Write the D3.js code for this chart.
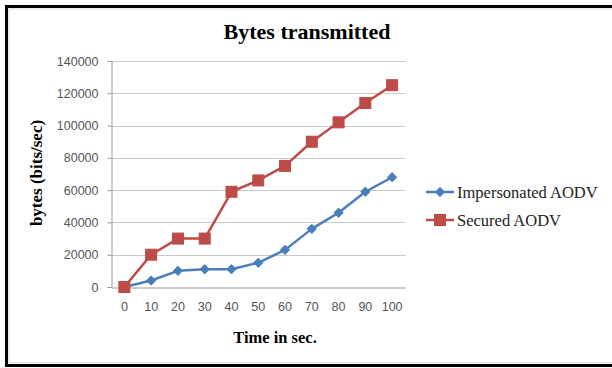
<!DOCTYPE html>
<html>
<head>
<meta charset="utf-8">
<script src="https://cdn.jsdelivr.net/npm/d3@7"></script>
<style>
  html, body { margin: 0; padding: 0; background: #fff; }
  svg { display: block; }
</style>
</head>
<body>
<svg id="chart" width="612" height="368"></svg>
<script>
// Time points (seconds) and bytes transmitted per scheme
const times = [0, 10, 20, 30, 40, 50, 60, 70, 80, 90, 100];
const impersonated = [0, 4000, 10000, 11000, 11000, 15000, 23000, 36000, 46000, 59000, 68000];
const secured = [0, 20000, 30000, 30000, 59000, 66000, 75000, 90000, 102000, 114000, 125000];
const yTicks = [0, 20000, 40000, 60000, 80000, 100000, 120000, 140000];
const seriesNames = ["Impersonated AODV", "Secured AODV"];

const svg = d3.select("#chart");
const serif = "'Liberation Serif', 'Times New Roman', serif";
const sans = "'Liberation Sans', Arial, sans-serif";

// Outer frame (open on the right side)
svg.append("rect").attr("x", 0).attr("y", 0).attr("width", 612).attr("height", 368).attr("fill", "#fff");
svg.append("path")
  .attr("d", "M614,6.5 H6.5 V365.5 H614")
  .attr("fill", "none").attr("stroke", "#000").attr("stroke-width", 3);
svg.append("path")
  .attr("d", "M614,9 H9 V362.5 H614")
  .attr("fill", "none").attr("stroke", "#d9d9d9").attr("stroke-width", 1);

const plot = { left: 111, right: 405.5, top: 61, bottom: 287 };

const x = d3.scaleBand().domain(times).range([plot.left, plot.right]);
const y = d3.scaleLinear().domain([0, 140000]).range([plot.bottom, plot.top]);
const cx = t => x(t) + x.bandwidth() / 2;

// Horizontal gridlines
svg.append("g").selectAll("line").data(yTicks.filter(d => d > 0)).join("line")
  .attr("x1", plot.left).attr("x2", plot.right)
  .attr("y1", d => Math.round(y(d)) + 0.5).attr("y2", d => Math.round(y(d)) + 0.5)
  .attr("stroke", "#c8c8c8").attr("stroke-width", 1);

// Y axis
const yAxis = svg.append("g")
  .attr("transform", `translate(${plot.left + 0.5},0)`)
  .call(d3.axisLeft(y).tickValues(yTicks).tickSize(4).tickPadding(9).tickFormat(d3.format("d")));
yAxis.select(".domain").attr("stroke", "#9a9a9a");
yAxis.selectAll(".tick line").attr("stroke", "#9a9a9a");
yAxis.selectAll("text").attr("font-family", sans).attr("font-size", 12.5).attr("fill", "#555");

// X axis
const xAxis = svg.append("g")
  .attr("transform", `translate(0,${Math.round(plot.bottom) + 0.5})`)
  .call(d3.axisBottom(x).tickSize(0).tickPadding(15));
xAxis.select(".domain").attr("stroke", "#9a9a9a");
xAxis.selectAll("text").attr("font-family", sans).attr("font-size", 12.5).attr("fill", "#555");

const blue = "#4a7ebb", red = "#be4b48";
const line = d3.line().x((d, i) => cx(times[i])).y(d => y(d));

// Impersonated AODV series
svg.append("path").datum(impersonated).attr("d", line)
  .attr("fill", "none").attr("stroke", blue).attr("stroke-width", 2.5).attr("stroke-linejoin", "round");
// Secured AODV series
svg.append("path").datum(secured).attr("d", line)
  .attr("fill", "none").attr("stroke", red).attr("stroke-width", 2.5).attr("stroke-linejoin", "round");

const diamond = d3.symbol().type(d3.symbolDiamond2).size(55);
svg.append("g").selectAll("path").data(impersonated).join("path")
  .attr("transform", (d, i) => `translate(${cx(times[i])},${y(d)})`)
  .attr("d", diamond).attr("fill", blue).attr("stroke", blue).attr("stroke-width", 1);

const sq = 11;
svg.append("g").selectAll("rect").data(secured).join("rect")
  .attr("x", (d, i) => cx(times[i]) - sq / 2).attr("y", d => y(d) - sq / 2)
  .attr("width", sq).attr("height", sq)
  .attr("fill", red).attr("stroke", red).attr("stroke-width", 1);

// Titles
svg.append("text").attr("x", 307).attr("y", 39).attr("text-anchor", "middle")
  .attr("font-family", serif).attr("font-weight", "bold").attr("font-size", 22)
  .text("Bytes transmitted");
svg.append("text").attr("x", 275).attr("y", 343).attr("text-anchor", "middle")
  .attr("font-family", serif).attr("font-weight", "bold").attr("font-size", 16.5)
  .text("Time in sec.");
svg.append("text").attr("transform", "translate(42,173) rotate(-90)").attr("text-anchor", "middle")
  .attr("font-family", serif).attr("font-weight", "bold").attr("font-size", 17)
  .text("bytes (bits/sec)");

// Legend
const legend = svg.append("g");
const legendItems = [
  { name: seriesNames[0], color: blue, kind: "diamond" },
  { name: seriesNames[1], color: red, kind: "square" }
];
legendItems.forEach((it, i) => {
  const ly = 192 + i * 28;
  legend.append("line").attr("x1", 426).attr("x2", 454).attr("y1", ly).attr("y2", ly)
    .attr("stroke", it.color).attr("stroke-width", 2.5);
  if (it.kind === "diamond") {
    legend.append("path").attr("transform", `translate(440,${ly})`).attr("d", diamond)
      .attr("fill", it.color).attr("stroke", it.color);
  } else {
    legend.append("rect").attr("x", 440 - sq / 2).attr("y", ly - sq / 2).attr("width", sq).attr("height", sq)
      .attr("fill", it.color).attr("stroke", it.color);
  }
  legend.append("text").attr("x", 457).attr("y", ly + 5.5)
    .attr("font-family", serif).attr("font-size", 16.5).attr("fill", "#222")
    .text(it.name);
});
</script>
</body>
</html>
